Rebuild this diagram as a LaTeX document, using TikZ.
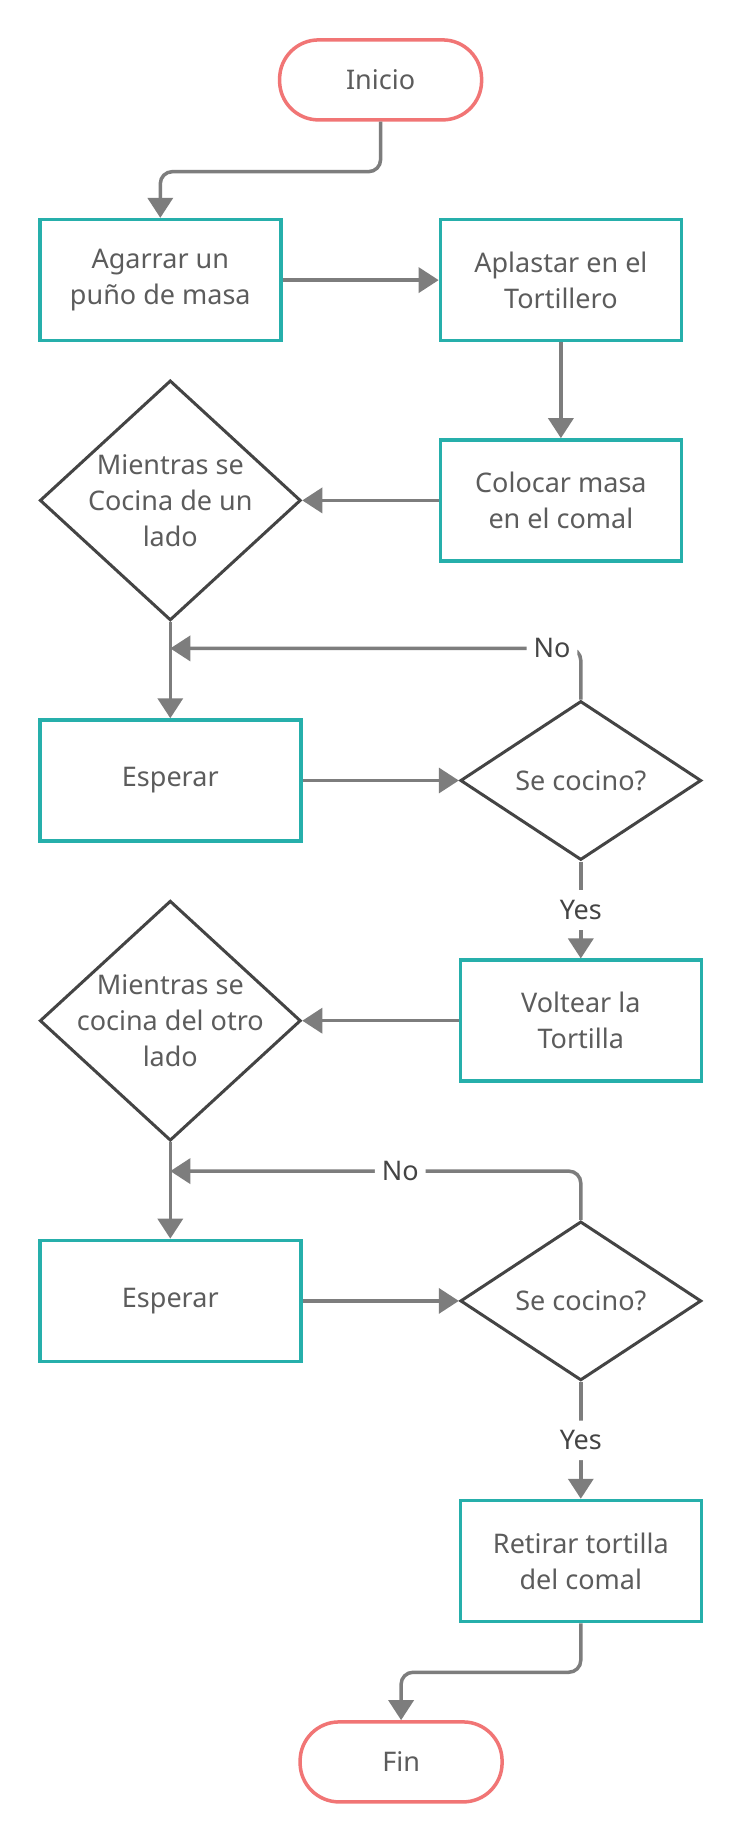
\documentclass[tikz,border=0pt]{standalone}
\usepackage{fontspec}
\setmainfont{Noto Sans}
\usetikzlibrary{shapes.geometric,arrows.meta}
\definecolor{boxteal}{RGB}{38,175,171}
\definecolor{termred}{RGB}{241,117,117}
\definecolor{linegray}{RGB}{125,125,125}
\definecolor{diagray}{RGB}{68,68,68}
\definecolor{textgray}{RGB}{92,92,92}

\begin{document}
\begin{tikzpicture}[x=1pt,y=-1pt,
  every node/.style={font=\fontsize{27}{36}\selectfont, text=textgray},
  term/.style={draw=termred, line width=3.5pt, rounded corners=39pt, minimum width=202pt, minimum height=80pt},
  proc/.style={draw=boxteal, line width=3.5pt, minimum width=241pt, minimum height=121pt, align=center},
  wideproc/.style={proc, minimum width=261pt},
  decide/.style={diamond, draw=diagray, line width=3pt, inner sep=0pt},
  flow/.style={draw=linegray, line width=3.5pt, rounded corners=12pt, -{Triangle[length=20pt,width=25pt]}},
  tag/.style={fill=white, text=diagray, inner xsep=7pt, inner ysep=10pt}
]
\fill[white] (0,0) rectangle (740,1840);

% Start and first steps
\node[term] (inicio) at (380.6,79.9) {Inicio};
\node[proc] (agarrar) at (160.3,280.1) {Agarrar un\\puño de masa};
\node[proc] (aplastar) at (560.9,280.1) {Aplastar en el\\Tortillero};
\node[proc] (colocar) at (560.9,500.4) {Colocar masa\\en el comal};

% First side
\node[decide, minimum width=261pt, minimum height=240pt,
  label={[align=center]center:Mientras se\\Cocina de un\\lado}] (lado1) at (170.3,500.4) {};
\node[wideproc] (esperar1) at (170.3,780.5) {Esperar};
\node[decide, minimum width=241pt, minimum height=159pt] (cocino1) at (580.8,780.5) {Se cocino?};
\node[proc] (voltear) at (580.8,1020.7) {Voltear la\\Tortilla};

% Other side
\node[decide, minimum width=261pt, minimum height=240pt,
  label={[align=center]center:Mientras se\\cocina del otro\\lado}] (lado2) at (170.3,1020.7) {};
\node[wideproc] (esperar2) at (170.3,1300.9) {Esperar};
\node[decide, minimum width=241pt, minimum height=159pt] (cocino2) at (580.8,1300.9) {Se cocino?};
\node[proc] (retirar) at (580.8,1561) {Retirar tortilla\\del comal};
\node[term] (fin) at (401.1,1761.9) {Fin};

% Connectors
\coordinate (join1) at (170.3,648.4);
\coordinate (join2) at (170.3,1171.1);
\draw[flow] (inicio.south) -- ++(0,50) -| (agarrar.north);
\draw[flow] (agarrar.east) -- (aplastar.west);
\draw[flow] (aplastar.south) -- (colocar.north);
\draw[flow] (colocar.west) -- (lado1.east);
\draw[flow] (lado1.south) -- (esperar1.north);
\draw[flow] (esperar1.east) -- (cocino1.west);
\draw[flow] (cocino1.north) |- node[tag, pos=0.535] (no1) {No} (join1);
\draw[flow] (cocino1.south) -- node[tag] (yes1) {Yes} (voltear.north);
\draw[flow] (voltear.west) -- (lado2.east);
\draw[flow] (lado2.south) -- (esperar2.north);
\draw[flow] (esperar2.east) -- (cocino2.west);
\draw[flow] (cocino2.north) |- node[tag, pos=0.72] (no2) {No} (join2);
\draw[flow] (cocino2.south) -- node[tag] (yes2) {Yes} (retirar.north);
\draw[flow] (retirar.south) -- ++(0,49) -| (fin.north);

\end{tikzpicture}
\end{document}
